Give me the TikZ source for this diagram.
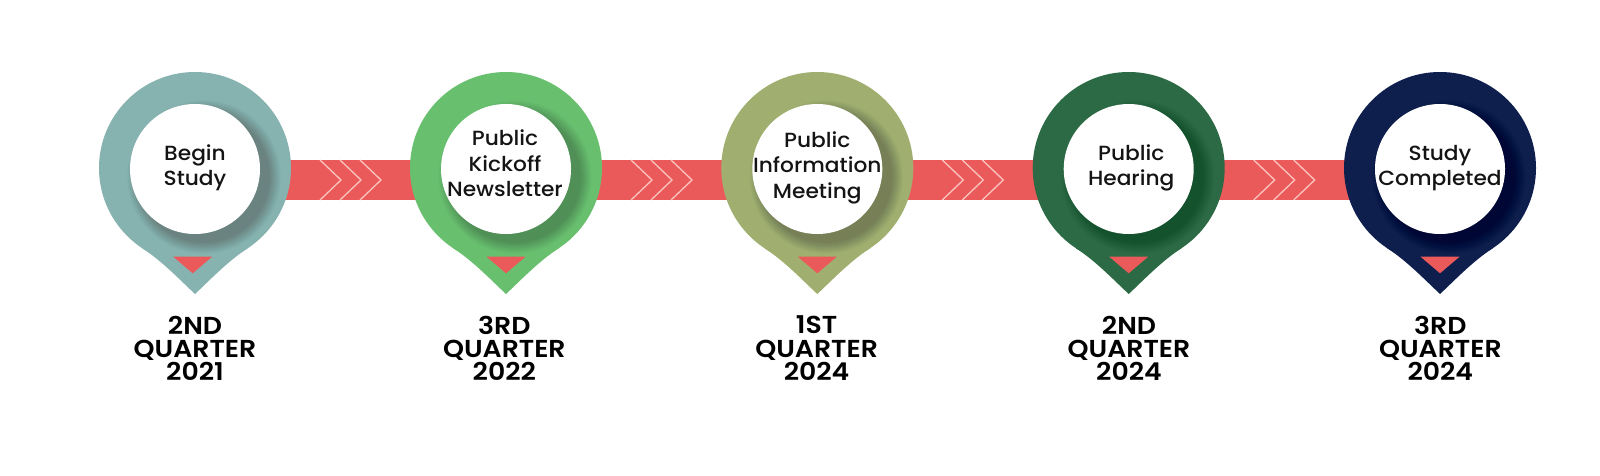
\documentclass[tikz,border=0pt]{standalone}
\usepackage{fontspec}
\setmainfont{Poppins Medium}[FakeStretch=1.06]
\newfontfamily\datefont{Poppins}[FakeStretch=1.09,UprightFont=* SemiBold]
\definecolor{barred}{HTML}{EB5A5A}
\definecolor{chev}{HTML}{FAC4BE}
\definecolor{pina}{HTML}{86B3B0}
\definecolor{pinb}{HTML}{68C06F}
\definecolor{pinc}{HTML}{A0AF6F}
\definecolor{pind}{HTML}{2B6A44}
\definecolor{pine}{HTML}{0F1F4D}
\newcommand{\tstrut}{\rule[-5pt]{0pt}{21pt}}
\newcommand{\dstrut}{\rule[-4pt]{0pt}{21pt}}
\tikzset{
  whitedisc/.style={circle,fill=white,inner sep=0pt,minimum size=130pt},
  eventlabel/.style={align=center,inner sep=0pt,text=black!92,font=\fontsize{20.5}{25.3}\selectfont},
  datelabel/.style={align=center,inner sep=0pt,text=black,font=\fontsize{24.5}{23.3}\selectfont\datefont},
  link/.style={draw=barred,line width=40pt},
  chevron/.style={draw=chev,line width=1.3pt},
  marker/.style={fill=barred}
}
\begin{document}
\begin{tikzpicture}[x=1pt,y=-1pt]
\useasboundingbox (0,0) rectangle (1600,476);
\fill[white] (0,0) rectangle (1600,476);
\foreach \i/\cx in {1/195,2/506,3/817.3,4/1128.7,5/1440}
  \coordinate (p\i) at (\cx,180);
\foreach \a/\b in {1/2,2/3,3/4,4/5}
  \draw[link] (p\a) -- (p\b);
\foreach \i in {1,...,4}
  \foreach \d in {0,20,40}
    \draw[chevron] ([xshift=125pt+\d pt,yshift=20pt]p\i) -- ([xshift=146pt+\d pt,yshift=0pt]p\i) -- ([xshift=125pt+\d pt,yshift=-20pt]p\i);
\foreach \i/\cx/\col/\tridx/\tdx/\tmean/\ddx/\ev/\dt in {
  1/195/pina/-2.3/0/173.5/0/{Begin\\Study}/{2ND\\QUARTER\\2021},
  2/506/pinb/0/-1/171/-1.7/{Public\\Kickoff\\Newsletter}/{3RD\\QUARTER\\2022},
  3/817.3/pinc/0/0/173/-0.7/{Public\\Information\\Meeting}/{1ST\\QUARTER\\2024},
  4/1128.7/pind/0/2.5/173.5/0.3/{Public\\Hearing}/{2ND\\QUARTER\\2024},
  5/1440/pine/0/0/173.5/0.3/{Study\\Completed}/{3RD\\QUARTER\\2024}} {
  \begin{scope}[shift={(\cx,168)}]
    \fill[\col] (0,0) circle[radius=96];
    \fill[\col] (-52.8,80.2) .. controls (-33,93) and (-15,112) .. (0,126)
      .. controls (15,112) and (33,93) .. (52.8,80.2) -- (0,0) -- cycle;
    \foreach \r in {65.5,66,...,77}
      \fill[black,opacity=0.008] (9,9) circle[radius=\r];
    \fill[marker] (\tridx-19.5,88.7) -- (\tridx+19.5,88.7) -- (\tridx,105.3) -- cycle;
  \end{scope}
  \node[whitedisc] (c\i) at (\cx,169) {};
  \node[eventlabel] (t\i) at (\cx+\tdx,\tmean-5.5) {\tstrut\ev\tstrut};
  \node[datelabel] (d\i) at (\cx+\ddx,350.2) {\dstrut\dt\dstrut};
}
\end{tikzpicture}
\end{document}
